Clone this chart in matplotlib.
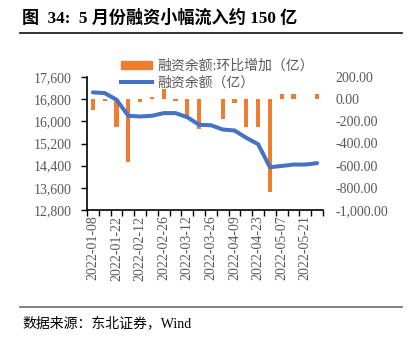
import matplotlib
matplotlib.use("Agg")
import matplotlib.pyplot as plt
from matplotlib.lines import Line2D
from matplotlib.patches import Patch

plt.rcParams['font.family'] = ['Liberation Serif', 'Noto Sans CJK SC']

# weekly dates (no 02-05 week, spring festival)
dates = ['2022-01-08', '2022-01-15', '2022-01-22', '2022-01-29', '2022-02-12',
         '2022-02-19', '2022-02-26', '2022-03-05', '2022-03-12', '2022-03-19',
         '2022-03-26', '2022-04-02', '2022-04-09', '2022-04-16', '2022-04-23',
         '2022-04-30', '2022-05-07', '2022-05-14', '2022-05-21', '2022-05-28']

# 融资余额 (亿)
balance = [17045, 17020, 16780, 16200, 16175, 16200, 16297, 16297, 16150, 15875,
           15860, 15705, 15670, 15405, 15175, 14345, 14390, 14440, 14440, 14490]

# 环比增加 (亿)
change = [-95, -20, -247, -564, -27, 18, 94, -18, -151, -268,
          -3, -175, -36, -253, -247, -835, 48, 48, 2, 48]

left_ticks = [12800, 13600, 14400, 15200, 16000, 16800, 17600]
right_ticks = [-1000, -800, -600, -400, -200, 0, 200]

orange = '#ED7D31'
blue = '#4472C4'
grey = '#595959'

fig = plt.figure(figsize=(4.10, 3.39), dpi=100)
ax = fig.add_axes([87/410, 1-210/339, 236/410, 133/339])
ax2 = ax.twinx()

x = list(range(len(dates)))
ax2.bar(x, change, width=0.35, color=orange, zorder=1)
ax.plot(x, balance, color=blue, lw=2.9, solid_joinstyle='round',
        solid_capstyle='round', zorder=3)
ax.set_zorder(ax2.get_zorder() + 1)
ax.patch.set_visible(False)

ax.set_xlim(-0.5, len(dates) - 0.5)
ax.set_ylim(12800, 17600)
ax2.set_ylim(-1000, 200)

ax.set_yticks(left_ticks)
ax.set_yticklabels([f'{v:,}' for v in left_ticks])
ax2.set_yticks(right_ticks)
ax2.set_yticklabels([f'{v:,.2f}' for v in right_ticks])

# tick marks on category boundaries, labels on every other category
ax.set_xticks([i - 0.5 for i in range(len(dates) + 1)])
ax.set_xticklabels([])
ax.set_xticks(x[::2], minor=True)
ax.set_xticklabels(dates[::2], minor=True, rotation=90)
ax.tick_params(axis='x', which='major', length=4, width=1, direction='out')
ax.tick_params(axis='x', which='minor', length=0, pad=4, labelsize=10, labelcolor=grey)
ax.tick_params(axis='y', length=4, width=1, pad=7, labelsize=10, labelcolor=grey)
ax2.tick_params(axis='y', length=0, pad=9, labelsize=10, labelcolor=grey)

for a in (ax, ax2):
    a.spines['top'].set_visible(False)
    a.spines['right'].set_visible(False)
ax2.spines['left'].set_visible(False)
ax2.spines['bottom'].set_visible(False)
ax.spines['left'].set_linewidth(1.2)
ax.spines['bottom'].set_linewidth(1.2)

handles = [Patch(color=orange), Line2D([0], [0], color=blue, lw=2.9)]
labels = ['融资余额:环比增加（亿）', '融资余额（亿）']
leg = fig.legend(handles, labels, loc='upper left', bbox_to_anchor=(121/410, 1-59/339),
                 frameon=False, fontsize=10, handlelength=2.2, handleheight=0.5,
                 handletextpad=0.4, labelspacing=0.25, borderaxespad=0, borderpad=0)
for t in leg.get_texts():
    t.set_color(grey)

fig.text(22/410, 1-18/339, '图  34:  5 月份融资小幅流入约 150 亿', fontsize=12.3,
         fontweight='bold', va='center', ha='left')
fig.add_artist(Line2D([20/410, 402/410], [1-33/339, 1-33/339], color='#222222', lw=1.3))
fig.add_artist(Line2D([20/410, 402/410], [1-307/339, 1-307/339], color='#777777', lw=1.3))
fig.text(22/410, 1-323/339, '数据来源：东北证券，Wind', fontsize=10, va='center', ha='left')

fig.savefig('out.png', dpi=100)
